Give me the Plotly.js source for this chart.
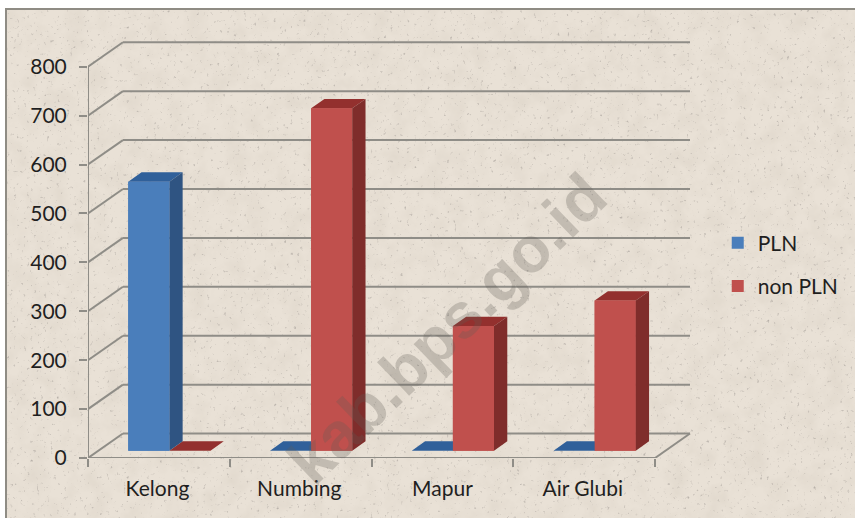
<!DOCTYPE html>
<html>
<head>
<meta charset="utf-8">
<script src="https://cdn.plot.ly/plotly-3.0.1.min.js"></script>
<style>
html,body{margin:0;padding:0;background:#fff;width:855px;height:518px;overflow:hidden}
#bg{position:absolute;left:5px;top:8px;width:850px;height:510px;box-sizing:border-box;
border-left:2px solid #8f8c84;border-top:2px solid #8f8c84;background-color:#e9e1d6;
background-image:url("data:image/svg+xml;utf8,<svg xmlns='http://www.w3.org/2000/svg' width='850' height='510'><filter id='a'><feTurbulence type='fractalNoise' baseFrequency='0.05' numOctaves='4' seed='4'/><feColorMatrix values='0 0 0 0 0.68 0 0 0 0 0.62 0 0 0 0 0.54 0.8 0 0 0 -0.3'/></filter><filter id='b'><feTurbulence type='fractalNoise' baseFrequency='0.3' numOctaves='2' seed='9'/><feColorMatrix values='0 0 0 0 0.48 0 0 0 0 0.44 0 0 0 0 0.4 4 0 0 0 -2.65'/></filter><rect width='850' height='510' filter='url(%23a)'/><rect width='850' height='510' filter='url(%23b)'/></svg>")}
#chart{position:absolute;left:0;top:0;width:855px;height:518px}
</style>
</head>
<body>
<div id="bg"></div>
<div id="chart"></div>
<script>
var categories = ['Kelong', 'Numbing', 'Mapur', 'Air Glubi'];
var plnValues = [550, 0, 0, 0];
var nonPlnValues = [0, 700, 255, 307];
var yTicks = [0, 100, 200, 300, 400, 500, 600, 700, 800];
var seriesNames = ['PLN', 'non PLN'];

// oblique projection used for the 3-D look (depth 0 = front, 1 = back wall)
var DX = 0.2465, DY = 50, D0 = 0.30, D1 = 0.68, BAR = 0.29;
function px(c, d) { return c + DX * d; }
function py(v, d) { return v + DY * d; }

var shapes = [];
function seg(x0, y0, x1, y1) {
  shapes.push({type: 'line', layer: 'below', xref: 'x', yref: 'y', x0: x0, y0: y0, x1: x1, y1: y1,
    line: {color: '#8f8d87', width: 2}});
}
yTicks.forEach(function (v) {
  seg(0, v, px(0, 1), py(v, 1));
  seg(px(0, 1), py(v, 1), px(4, 1), py(v, 1));
});
seg(0, 0, 0, 800);
seg(0, 0, 4, 0);
seg(4, 0, px(4, 1), py(0, 1));

function faces(values, side) {
  var top = {x: [], y: []}, right = {x: [], y: []}, front = {x: [], y: []};
  values.forEach(function (v, i) {
    var l = i + 0.5 + (side === 0 ? -BAR : 0), r = l + BAR;
    top.x.push(px(l, D0), px(r, D0), px(r, D1), px(l, D1), px(l, D0), null);
    top.y.push(py(v, D0), py(v, D0), py(v, D1), py(v, D1), py(v, D0), null);
    right.x.push(px(r, D0), px(r, D1), px(r, D1), px(r, D0), px(r, D0), null);
    right.y.push(py(0, D0), py(0, D1), py(v, D1), py(v, D0), py(0, D0), null);
    front.x.push(px(l, D0), px(r, D0), px(r, D0), px(l, D0), px(l, D0), null);
    front.y.push(py(0, D0), py(0, D0), py(v, D0), py(v, D0), py(0, D0), null);
  });
  return {top: top, right: right, front: front};
}
function poly(f, color) {
  return {type: 'scatter', mode: 'lines', x: f.x, y: f.y, fill: 'toself', fillcolor: color,
    line: {width: 0, color: color}, showlegend: false, hoverinfo: 'skip'};
}
function bars(values, side, name, color) {
  return {type: 'bar', name: name, legendgroup: name,
    x: categories.map(function (c, i) { return px(i + 0.5 + (side === 0 ? -BAR / 2 : BAR / 2), D0); }),
    y: values, base: values.map(function () { return py(0, D0); }),
    width: BAR, marker: {color: color, line: {width: 0}}, hoverinfo: 'skip'};
}

var fb = faces(plnValues, 0), fr = faces(nonPlnValues, 1);
var traces = [
  bars(plnValues, 0, seriesNames[0], '#4a7ebb'),
  bars(nonPlnValues, 1, seriesNames[1], '#c0504d'),
  poly(fr.top, '#93302e'),
  poly(fb.top, '#30609a'), poly(fb.right, '#2f5482'), poly(fb.front, '#4a7ebb'),
  poly(fr.front, '#c0504d'), poly(fr.right, '#7f2d2b')
];

var font = {family: 'Lato, "Open Sans", sans-serif', size: 21, color: '#1f1f1f'};
var layout = {
  width: 855, height: 518,
  margin: {l: 88, r: 155, t: 30, b: 60, pad: 0},
  paper_bgcolor: 'rgba(0,0,0,0)', plot_bgcolor: 'rgba(0,0,0,0)',
  barmode: 'overlay', font: font, shapes: shapes,
  xaxis: {range: [0, 4.31], showgrid: false, zeroline: false, showline: false,
    tickmode: 'array', tickvals: [0.49, 1.49, 2.5, 3.49], ticktext: categories,
    ticks: '', ticklen: 0, ticklabelstandoff: 16, tickfont: font,
    minor: {tickmode: 'array', tickvals: [0, 1, 2, 3, 4], ticks: 'outside', ticklen: 8, tickwidth: 2, tickcolor: '#8f8d87', showgrid: false}},
  yaxis: {range: [0, 875], showgrid: false, zeroline: false, showline: false,
    tickmode: 'array', tickvals: yTicks, ticks: 'outside', ticklen: 8, tickwidth: 2, tickcolor: '#8f8d87',
    ticklabelstandoff: 8, tickfont: font},
  legend: {x: 1.029, xanchor: 'left', y: 0.55, yanchor: 'top', bgcolor: 'rgba(0,0,0,0)',
    tracegroupgap: 13, font: font},
  annotations: [{xref: 'paper', yref: 'paper', x: 0.587, y: 0.301, xanchor: 'center', yanchor: 'middle',
    text: 'kab.bps.go.id', showarrow: false, textangle: -44,
    font: {family: 'Liberation Sans, sans-serif', size: 64, color: 'rgba(95,92,85,0.27)', weight: 700}}]
};
Plotly.newPlot('chart', traces, layout, {displayModeBar: false, staticPlot: true});
</script>
</body>
</html>
